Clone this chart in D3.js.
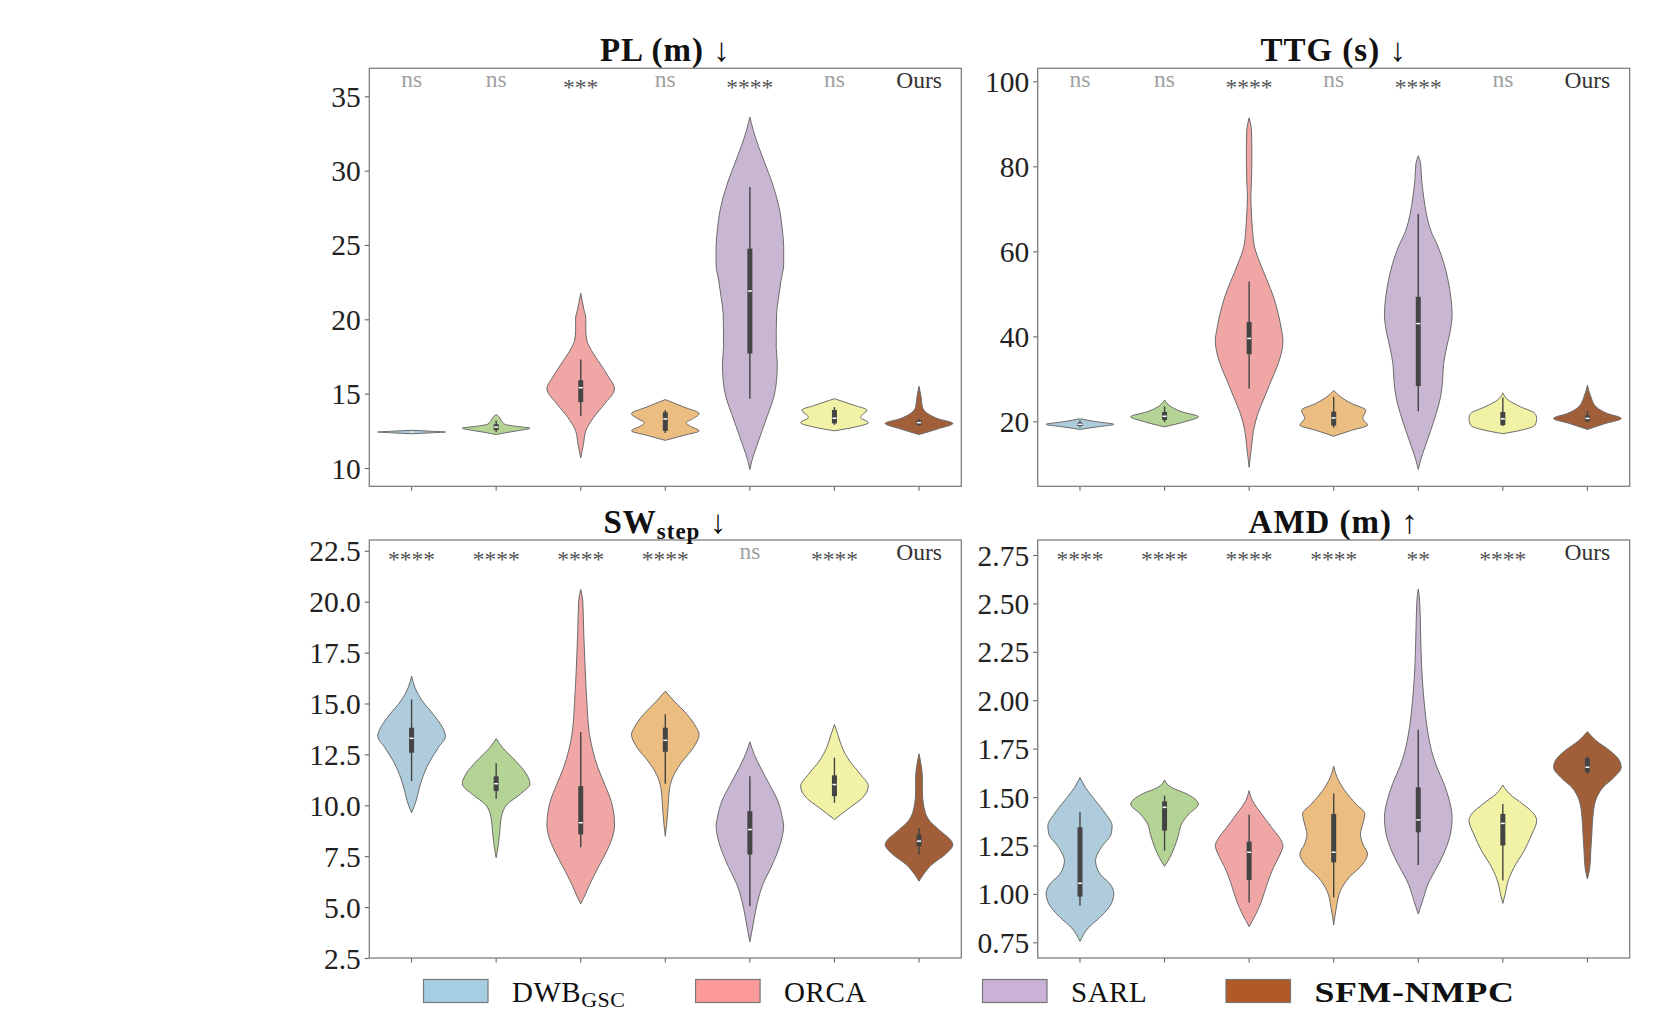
<!DOCTYPE html>
<html>
<head>
<meta charset="utf-8">
<script src="https://cdn.jsdelivr.net/npm/d3@7"></script>
<style>
  body { margin: 0; background: #fff; }
  svg { display: block; }
  text { font-family: "Liberation Serif", "DejaVu Serif", serif; }
</style>
</head>
<body>
<svg id="chart" width="1660" height="1027"></svg>
<script>
// colours of the 7 methods, left to right (seaborn "Paired"-like)
var groupColors = ["#a6cee3", "#b2df8a", "#fb9a99", "#fdbf6f", "#cab2d6", "#ffff99", "#b15928"];
// legend only lists four of them
var legendIdx = [0, 2, 4, 6];
var legendMain = ["DWB", "ORCA", "SARL", "SFM-NMPC"];
var legendSub = ["GSC", "", "", ""];

var titleMain = ["PL (m)", "TTG (s)", "SW", "AMD (m)"];
var titleSub = ["", "", "step", ""];
var titleArrow = ["↓", "↓", "↓", "↑"];

var sigLabels = [
  ["ns", "ns", "***", "ns", "****", "ns", "Ours"],
  ["ns", "ns", "****", "ns", "****", "ns", "Ours"],
  ["****", "****", "****", "****", "ns", "****", "Ours"],
  ["****", "****", "****", "****", "**", "****", "Ours"]
];

var yTicks = [
  [10, 15, 20, 25, 30, 35],
  [20, 40, 60, 80, 100],
  [2.5, 5, 7.5, 10, 12.5, 15, 17.5, 20, 22.5],
  [0.75, 1, 1.25, 1.5, 1.75, 2, 2.25, 2.5, 2.75]
];
var yTickFormat = ["d", "d", ".1f", ".2f"];
var yLimits = [[8.77, 36.88], [4.72, 103.06], [2.5, 23.03], [0.669, 2.8275]];

// violin outlines: [value, relative half width]
var plShapes = [
  [[12.3, 0], [12.37, 0.6], [12.42, 1], [12.47, 0.6], [12.54, 0]],
  [[12.25, 0], [12.4, 0.35], [12.55, 0.75], [12.68, 1], [12.8, 0.6], [12.95, 0.25], [13.2, 0.15], [13.45, 0.08], [13.6, 0]],
  [[10.67, 0], [11.6, 0.08], [12.5, 0.15], [13.4, 0.38], [14.3, 0.7], [15.33, 1], [16.1, 0.83], [17.0, 0.58], [17.9, 0.32], [18.6, 0.18], [19.25, 0.15], [20.1, 0.15], [20.6, 0.1], [21.76, 0]],
  [[11.86, 0], [12.2, 0.55], [12.5, 1], [12.8, 0.75], [13.05, 0.62], [13.3, 0.8], [13.65, 1], [14.1, 0.55], [14.6, 0]],
  [[9.9, 0], [10.5, 0.06], [11.4, 0.19], [12.5, 0.36], [13.65, 0.54], [14.8, 0.71], [15.9, 0.79], [17.0, 0.81], [18.1, 0.78], [19.25, 0.78], [20.4, 0.79], [21.5, 0.85], [22.6, 0.92], [23.7, 1], [24.85, 1], [26.0, 0.96], [27.1, 0.9], [28.2, 0.79], [29.3, 0.64], [30.45, 0.45], [31.6, 0.26], [32.7, 0.1], [33.6, 0]],
  [[12.5, 0], [12.75, 0.6], [13.05, 1], [13.4, 0.77], [13.9, 0.96], [14.2, 0.6], [14.66, 0]],
  [[12.25, 0], [12.65, 0.58], [13.0, 1], [13.3, 0.58], [13.65, 0.26], [14.1, 0.1], [14.8, 0.06], [15.5, 0]]
];
var ttgShapes = [
  [[18.1, 0], [18.7, 0.5], [19.3, 1], [19.9, 0.5], [20.6, 0]],
  [[18.7, 0], [19.9, 0.59], [21.1, 1], [22.2, 0.53], [23.4, 0.2], [25.0, 0]],
  [[9.2, 0], [14.0, 0.07], [17.9, 0.13], [21.85, 0.26], [25.8, 0.46], [29.7, 0.66], [33.6, 0.86], [36.7, 0.97], [39.1, 1], [41.4, 0.96], [45.3, 0.86], [49.3, 0.72], [53.2, 0.53], [57.1, 0.33], [61.0, 0.16], [64.9, 0.1], [68.8, 0.07], [72.75, 0.05], [76.7, 0.07], [80.6, 0.08], [84.5, 0.08], [88.4, 0.07], [91.4, 0]],
  [[16.5, 0], [17.9, 0.53], [19.1, 1], [20.7, 0.86], [22.6, 0.95], [24.2, 0.53], [25.8, 0.2], [27.3, 0]],
  [[8.7, 0], [10.9, 0.07], [14.0, 0.2], [17.9, 0.37], [21.85, 0.53], [25.8, 0.66], [29.7, 0.72], [33.6, 0.75], [37.5, 0.84], [41.4, 0.95], [45.3, 1], [49.3, 0.96], [53.2, 0.88], [57.1, 0.76], [61.0, 0.59], [64.9, 0.37], [68.8, 0.24], [72.75, 0.16], [76.7, 0.1], [80.6, 0.07], [82.5, 0]],
  [[17.1, 0], [17.9, 0.53], [19.1, 0.95], [20.7, 1], [21.85, 0.95], [23.4, 0.53], [25.0, 0.16], [26.7, 0]],
  [[18.1, 0], [19.5, 0.53], [20.7, 1], [21.85, 0.59], [23.4, 0.26], [25.8, 0.1], [28.5, 0]]
];
var swShapes = [
  [[9.63, 0], [10.2, 0.13], [10.86, 0.23], [11.52, 0.36], [12.17, 0.54], [12.83, 0.79], [13.4, 1], [13.8, 0.92], [14.47, 0.64], [15.12, 0.32], [15.78, 0.1], [16.35, 0]],
  [[7.42, 0], [7.9, 0.05], [8.57, 0.1], [9.39, 0.15], [10.04, 0.32], [10.53, 0.7], [11.06, 1], [11.52, 0.9], [12.17, 0.58], [12.83, 0.19], [13.27, 0]],
  [[5.16, 0], [5.6, 0.13], [6.1, 0.26], [6.93, 0.51], [7.75, 0.77], [8.57, 0.96], [8.98, 1], [9.39, 0.99], [10.2, 0.9], [11.02, 0.71], [11.84, 0.51], [12.66, 0.36], [13.48, 0.26], [15.12, 0.18], [16.76, 0.13], [18.4, 0.09], [20.04, 0.06], [20.6, 0]],
  [[8.48, 0], [9.06, 0.04], [9.88, 0.08], [10.86, 0.13], [11.52, 0.26], [12.17, 0.51], [12.83, 0.83], [13.48, 1], [13.81, 0.92], [14.47, 0.64], [15.12, 0.26], [15.61, 0]],
  [[3.29, 0], [3.81, 0.06], [4.47, 0.13], [5.28, 0.23], [6.1, 0.38], [6.93, 0.62], [7.75, 0.83], [8.57, 0.97], [8.98, 1], [9.39, 0.96], [10.2, 0.83], [11.02, 0.58], [11.84, 0.32], [12.5, 0.13], [13.12, 0]],
  [[9.3, 0], [9.55, 0.19], [9.88, 0.45], [10.37, 0.83], [10.94, 1], [11.52, 0.77], [12.17, 0.45], [12.83, 0.23], [13.48, 0.1], [13.97, 0]],
  [[6.27, 0], [6.6, 0.13], [7.09, 0.38], [7.58, 0.77], [8.07, 1], [8.24, 0.96], [8.73, 0.64], [9.22, 0.32], [9.88, 0.15], [10.7, 0.1], [11.35, 0.1], [12.0, 0.06], [12.53, 0]]
];
var amdShapes = [
  [[0.755, 0], [0.827, 0.26], [0.879, 0.59], [0.948, 0.92], [1.0, 1], [1.051, 0.89], [1.103, 0.59], [1.172, 0.46], [1.24, 0.63], [1.309, 0.92], [1.352, 0.95], [1.413, 0.76], [1.481, 0.46], [1.55, 0.16], [1.602, 0]],
  [[1.142, 0], [1.189, 0.16], [1.24, 0.29], [1.309, 0.42], [1.361, 0.5], [1.413, 0.72], [1.464, 1], [1.516, 0.66], [1.55, 0.2], [1.588, 0]],
  [[0.831, 0], [0.896, 0.2], [0.964, 0.37], [1.051, 0.53], [1.137, 0.72], [1.206, 0.92], [1.249, 1], [1.292, 0.89], [1.344, 0.66], [1.413, 0.37], [1.481, 0.1], [1.533, 0]],
  [[0.84, 0], [0.931, 0.08], [1.017, 0.2], [1.086, 0.46], [1.154, 0.86], [1.206, 1], [1.258, 0.86], [1.309, 0.79], [1.361, 0.86], [1.413, 0.92], [1.464, 0.66], [1.533, 0.33], [1.602, 0.1], [1.659, 0]],
  [[0.896, 0], [0.965, 0.13], [1.051, 0.29], [1.137, 0.55], [1.223, 0.79], [1.309, 0.95], [1.395, 1], [1.481, 0.92], [1.568, 0.76], [1.654, 0.55], [1.74, 0.39], [1.826, 0.29], [1.998, 0.17], [2.17, 0.1], [2.342, 0.07], [2.514, 0.04], [2.574, 0]],
  [[0.951, 0], [1.0, 0.07], [1.051, 0.13], [1.137, 0.33], [1.223, 0.63], [1.309, 0.86], [1.378, 1], [1.413, 0.92], [1.464, 0.59], [1.516, 0.2], [1.562, 0]],
  [[1.077, 0], [1.137, 0.07], [1.223, 0.1], [1.309, 0.13], [1.395, 0.16], [1.481, 0.24], [1.55, 0.46], [1.602, 0.79], [1.654, 1], [1.688, 0.95], [1.74, 0.66], [1.791, 0.26], [1.838, 0]]
];

// inner boxes: [whisker low, q1, median, q3, whisker high]
var plBox = [[12.38, 12.4, 12.42, 12.45, 12.47], [12.4, 12.55, 12.75, 12.95, 13.2], [13.5, 14.43, 15.4, 15.9, 17.3], [12.35, 12.5, 13.3, 13.75, 13.9], [14.66, 17.7, 21.9, 24.75, 28.9], [12.9, 13.0, 13.35, 13.9, 14.1], [12.85, 12.9, 13.05, 13.2, 13.3]];
var ttgBox = [[18.6, 18.9, 19.3, 19.7, 20.2], [19.8, 20.3, 21.2, 22.2, 23.5], [27.7, 35.8, 39.5, 43.4, 52.9], [18.5, 19.0, 20.8, 22.3, 25.8], [22.4, 28.3, 43.0, 49.3, 68.8], [18.9, 19.1, 20.6, 22.2, 25.6], [19.9, 20.0, 20.7, 21.4, 22.5]];
var swBox = [[11.19, 12.58, 13.29, 13.81, 15.2], [10.32, 10.7, 11.06, 11.42, 12.06], [7.94, 8.57, 9.14, 10.94, 13.6], [11.06, 12.63, 13.19, 13.81, 14.47], [5.04, 7.58, 8.81, 9.71, 11.43], [10.12, 10.45, 11.02, 11.47, 12.34], [7.58, 7.99, 8.24, 8.57, 8.89]];
var amdBox = [[0.939, 0.986, 1.055, 1.344, 1.421], [1.223, 1.327, 1.447, 1.478, 1.507], [0.956, 1.072, 1.215, 1.27, 1.409], [0.982, 1.163, 1.215, 1.413, 1.519], [1.149, 1.318, 1.382, 1.55, 1.848], [1.069, 1.25, 1.364, 1.413, 1.464], [1.62, 1.628, 1.654, 1.702, 1.71]];

var allShapes = [plShapes, ttgShapes, swShapes, amdShapes];
var allBoxes = [plBox, ttgBox, swBox, amdBox];

// layout
var axLeft = [369.3, 1037.7], axTop = [68.3, 540], axW = 592, axH = 418;
var legendX = [423.5, 695.6, 982.5, 1226];

var svg = d3.select("#chart");

function desat(c) {
  var h = d3.hsl(c);
  h.s *= 0.75;
  return h.formatHex();
}

allShapes.forEach(function(shapes, k) {
  var col = k % 2, row = Math.floor(k / 2);
  var g = svg.append("g").attr("transform", "translate(" + axLeft[col] + "," + axTop[row] + ")");

  var x = d3.scaleBand().domain(d3.range(7)).range([0, axW]);
  var y = d3.scaleLinear().domain(yLimits[k]).range([axH, 0]);
  var hw = x.bandwidth() * 0.4;

  // violins
  shapes.forEach(function(shape, i) {
    var cx = x(i) + x.bandwidth() / 2;
    var area = d3.area()
      .curve(d3.curveMonotoneY)
      .y(function(d) { return y(d[0]); })
      .x0(function(d) { return cx - hw * d[1]; })
      .x1(function(d) { return cx + hw * d[1]; });
    g.append("path")
      .datum(shape.slice().reverse())
      .attr("d", area)
      .attr("fill", desat(groupColors[i]))
      .attr("stroke", "#6b6b6b")
      .attr("stroke-width", 1);

    var b = allBoxes[k][i];
    g.append("line")
      .attr("x1", cx).attr("x2", cx)
      .attr("y1", y(b[0])).attr("y2", y(b[4]))
      .attr("stroke", "#444").attr("stroke-width", 1.4);
    g.append("line")
      .attr("x1", cx).attr("x2", cx)
      .attr("y1", y(b[1])).attr("y2", y(b[3]))
      .attr("stroke", "#444").attr("stroke-width", 5);
    g.append("line")
      .attr("x1", cx - 2).attr("x2", cx + 2)
      .attr("y1", y(b[2])).attr("y2", y(b[2]))
      .attr("stroke", "#fff").attr("stroke-width", 1.5);
  });

  // axes
  var ya = g.append("g").call(d3.axisLeft(y)
      .tickValues(yTicks[k])
      .tickFormat(d3.format(yTickFormat[k]))
      .tickSize(4.5).tickPadding(4));
  ya.select(".domain").remove();
  ya.selectAll("line").attr("stroke", "#666").attr("stroke-width", 1.1);
  ya.selectAll("text").attr("font-size", 29.5).attr("fill", "#222")
    .attr("font-family", "Liberation Serif").attr("dy", "0.34em");

  var xa = g.append("g").attr("transform", "translate(0," + axH + ")")
    .call(d3.axisBottom(x).tickSize(4.5).tickFormat(""));
  xa.select(".domain").remove();
  xa.selectAll("line").attr("stroke", "#666").attr("stroke-width", 1.1);

  g.append("rect")
    .attr("width", axW).attr("height", axH)
    .attr("fill", "none").attr("stroke", "#7f7f7f").attr("stroke-width", 1.3);

  // significance marks
  g.selectAll(".sig").data(sigLabels[k]).enter().append("text")
    .attr("class", "sig")
    .attr("x", function(d, i) { return x(i) + x.bandwidth() / 2; })
    .attr("y", function(d) { return d.charAt(0) === "*" ? 27 : (d === "ns" ? 19 : 20); })
    .attr("text-anchor", "middle")
    .attr("font-size", 23.5)
    .attr("fill", function(d) { return d === "ns" ? "#a0a0a0" : (d === "Ours" ? "#333" : "#555"); })
    .text(function(d) { return d; });

  // title
  var t = g.append("text")
    .attr("x", axW / 2).attr("y", -7.5)
    .attr("text-anchor", "middle")
    .attr("font-size", 33).attr("font-weight", "bold").attr("fill", "#111")
    .attr("letter-spacing", 1);
  t.append("tspan").text(titleMain[k]);
  if (titleSub[k]) {
    t.append("tspan").attr("font-size", 23).attr("dy", 6).text(titleSub[k]);
    t.append("tspan").attr("dy", -6).attr("font-weight", "normal").text(" " + titleArrow[k]);
  } else {
    t.append("tspan").attr("font-weight", "normal").text(" " + titleArrow[k]);
  }
});

// legend
var leg = svg.append("g");
legendIdx.forEach(function(ci, j) {
  var lx = legendX[j];
  leg.append("rect")
    .attr("x", lx).attr("y", 979.5).attr("width", 64.5).attr("height", 23)
    .attr("fill", groupColors[ci]).attr("stroke", "#777").attr("stroke-width", 1.2);
  var tx = leg.append("text")
    .attr("x", lx + 88.5).attr("y", 1001.5)
    .attr("font-size", 29).attr("fill", "#111")
    .attr("font-weight", j === 3 ? "bold" : "normal")
    .attr("letter-spacing", 0.5);
  if (j === 3) tx.attr("textLength", 200).attr("lengthAdjust", "spacingAndGlyphs");
  tx.append("tspan").text(legendMain[j]);
  if (legendSub[j]) tx.append("tspan").attr("font-size", 22).attr("dy", 5).text(legendSub[j]);
});
</script>
</body>
</html>
